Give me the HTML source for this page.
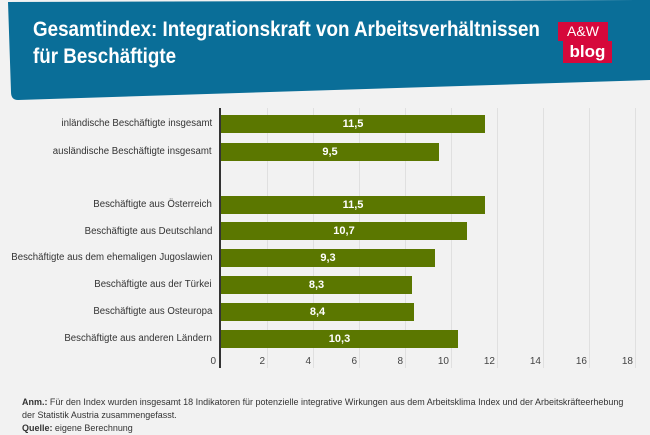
<!DOCTYPE html><html><head><style>
body{margin:0;width:650px;height:433px;background:#f2f2f2;position:relative;overflow:hidden;font-family:"Liberation Sans",sans-serif}
.a{position:absolute}
.lab{position:absolute;right:438px;font-size:10px;color:#333;white-space:nowrap;transform:scaleX(.965);transform-origin:right}
.bar{position:absolute;left:221px;height:18px;background:#5b7700;color:#fff;font-weight:bold;font-size:11px;text-align:center;line-height:18px}
.g{position:absolute;top:108px;height:260px;width:1px;background:#e0e0e0}
.t{position:absolute;top:356px;font-size:10px;color:#444;width:20px;text-align:right}
</style></head><body>
<svg class="a" style="left:0;top:0" width="650" height="110"><path d="M8 2 L650 0 L650 80 L18 100 Q11 100 11 92 Z" fill="#0a6e98"/></svg>
<div class="a" style="left:33px;top:16px;color:#fff;font-weight:bold;font-size:21px;line-height:27px;transform:scaleX(.895);transform-origin:left;white-space:nowrap">Gesamtindex: Integrationskraft von Arbeitsverhältnissen<br>für Beschäftigte</div>
<div class="a" style="left:558px;top:22px;width:50px;height:19px;background:#d6083b;color:#fff;font-size:14px;text-align:center;line-height:19px">A&amp;W</div>
<div class="a" style="left:563px;top:41px;width:49px;height:22px;background:#d6083b;color:#fff;font-size:17px;font-weight:bold;text-align:center;line-height:21px">blog</div>
<div class="g" style="left:267px"></div><div class="g" style="left:313px"></div><div class="g" style="left:359px"></div><div class="g" style="left:405px"></div><div class="g" style="left:451px"></div><div class="g" style="left:497px"></div><div class="g" style="left:543px"></div><div class="g" style="left:589px"></div><div class="g" style="left:635px"></div>
<div class="a" style="left:219px;top:108px;width:2px;height:260px;background:#333"></div>
<div class="lab" style="top:118px">inländische Beschäftigte insgesamt</div><div class="bar" style="top:115px;width:264px">11,5</div>
<div class="lab" style="top:146px">ausländische Beschäftigte insgesamt</div><div class="bar" style="top:143px;width:218px">9,5</div>
<div class="lab" style="top:199px">Beschäftigte aus Österreich</div><div class="bar" style="top:196px;width:264px">11,5</div>
<div class="lab" style="top:226px">Beschäftigte aus Deutschland</div><div class="bar" style="top:222px;width:246px">10,7</div>
<div class="lab" style="top:252px">Beschäftigte aus dem ehemaligen Jugoslawien</div><div class="bar" style="top:249px;width:214px">9,3</div>
<div class="lab" style="top:279px">Beschäftigte aus der Türkei</div><div class="bar" style="top:276px;width:191px">8,3</div>
<div class="lab" style="top:306px">Beschäftigte aus Osteuropa</div><div class="bar" style="top:303px;width:193px">8,4</div>
<div class="lab" style="top:333px">Beschäftigte aus anderen Ländern</div><div class="bar" style="top:330px;width:237px">10,3</div>
<div class="t" style="left:196px">0</div><div class="t" style="left:245px">2</div><div class="t" style="left:291px">4</div><div class="t" style="left:337px">6</div><div class="t" style="left:383px">8</div><div class="t" style="left:429px">10</div><div class="t" style="left:475px">12</div><div class="t" style="left:521px">14</div><div class="t" style="left:567px">16</div><div class="t" style="left:613px">18</div>
<div class="a" style="left:22px;top:396px;font-size:9.5px;color:#333;line-height:13px;white-space:nowrap;transform:scaleX(.945);transform-origin:left"><b>Anm.:</b> Für den Index wurden insgesamt 18 Indikatoren für potenzielle integrative Wirkungen aus dem Arbeitsklima Index und der Arbeitskräfteerhebung<br>der Statistik Austria zusammengefasst.<br><b>Quelle:</b> eigene Berechnung</div>
</body></html>
